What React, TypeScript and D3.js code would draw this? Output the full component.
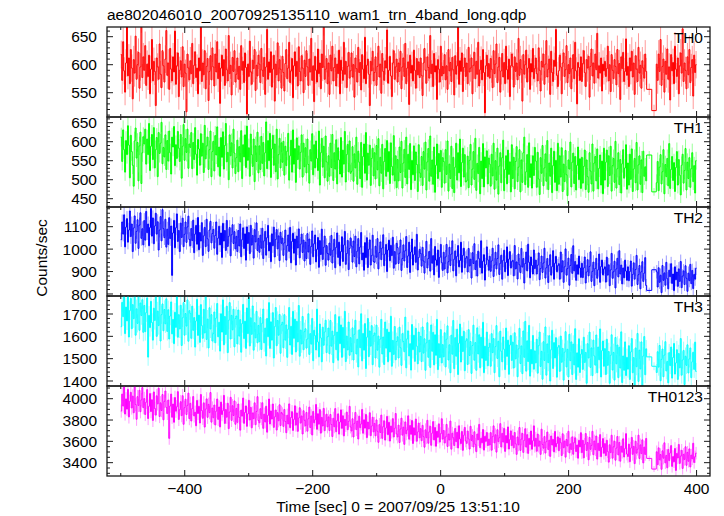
import React from "react";
import * as d3 from "d3";

const W = 724;
const H = 516;
const LEFT = 107;
const RIGHT = 710;
const PANEL_EDGES = [27, 117, 207, 296, 386, 476];
const T_DOMAIN: [number, number] = [-521.5, 421];

const TITLE = "ae802046010_20070925135110_wam1_trn_4band_long.qdp";
const X_LABEL = "Time [sec] 0 = 2007/09/25 13:51:10";
const Y_LABEL = "Counts/sec";
const X_TICK_LABELS = [-400, -200, 0, 200, 400];

// binning of the light curve: segment A, two wide bins across the gap, segment B
const SEG_A_START = -500;
const GAP_EDGES = [322, 330, 337];
const SEG_B_END = 400;
const NOMINAL_BIN = 1.5;
const EXPOSURE = 1.0;

const TH0_A = [
  618,572,641,589,551,603,668,580,612,566,627,594,539,609,585,651,574,600,622,558,596,683,577,614,
  590,634,563,601,579,617,548,592,645,571,606,588,527,612,596,574,637,583,559,625,598,569,610,661,
  581,603,556,629,592,571,614,587,660,565,598,621,543,590,607,578,632,561,601,585,516,619,594,573,
  607,584,638,566,599,623,577,594,548,612,589,674,570,603,582,625,557,597,611,536,588,616,573,630,
  596,562,619,587,641,575,603,531,594,617,580,609,563,628,591,571,652,584,599,546,613,588,625,569,
  583,612,574,597,556,634,590,606,568,621,595,512,601,579,642,587,565,608,593,627,554,599,580,617,
  601,568,629,590,579,613,547,596,663,574,605,586,623,560,592,617,535,601,582,639,571,609,592,558,
  615,586,553,602,627,575,594,640,568,589,611,541,598,623,579,606,562,632,588,571,616,594,550,608,
  579,625,596,563,610,587,647,572,598,534,615,590,569,628,584,603,557,619,595,678,574,592,611,566,
  603,547,617,589,633,571,595,612,562,601,584,626,548,608,590,572,640,583,606,559,597,622,576,589,
  621,578,600,542,612,593,569,631,586,604,555,618,592,575,649,566,599,610,583,527,606,589,624,571,
  586,614,563,597,633,578,601,549,620,588,572,607,594,662,567,590,615,580,543,603,625,574,596,610,
  569,603,588,624,557,596,612,579,638,566,594,605,529,617,585,599,571,626,590,558,611,582,605,577,
  612,581,545,603,629,590,567,614,595,576,652,584,601,561,620,587,598,538,609,592,569,633,580,597,
  584,618,573,598,556,627,589,604,570,613,591,546,616,583,598,672,565,607,588,621,552,595,612,579,
  603,566,631,587,594,612,548,599,622,575,606,583,640,562,591,608,573,627,586,514,598,617,579,602,
  576,611,592,559,625,584,601,637,568,596,613,551,589,620,578,604,566,633,591,574,610,543,598,619,
  597,560,614,588,603,573,647,581,609,592,535,618,583,600,626,569,594,611,556,602,587,629,575,593,
  612,584,571,630,590,553,606,596,619,565,601,643,578,592,610,547,624,586,570,608,597,663,581,561,
  589,617,596,548,603,621,579,591,634,568,600,584,612,557,593,618,575,640,589,530,604,595,572,614,
  570,602,625,586,561,609,594,615,542,597,628,580,603,567,619,591,656,576,598,585,612,553,601,589,
  606,579,593,633,571,600,552,618,590,575,609,597,564,627,584,602,538,614,593,622,570,588,646,581,
  597,561,612,589,624,578,603,547,616,592,570,631,585,599,558,607,594,576,619,588,
];
const TH0_GAP = [556, 518];
const TH0_B = [
  601,572,619,588,645,563,597,610,551,606,583,628,574,596,537,618,589,604,566,633,592,
  579,612,548,598,621,585,664,570,603,590,557,614,582,627,568,595,609,544,617,586,600,
];

const TH1_A = [
  612,548,631,579,520,603,566,642,591,505,617,574,538,483,602,636,557,598,497,589,625,490,571,613,
  594,633,541,607,566,648,524,588,619,553,637,531,579,611,508,624,569,596,651,542,585,560,618,527,
  603,549,628,571,515,612,586,640,537,592,556,627,583,548,619,504,588,645,551,608,572,633,530,594,
  585,624,529,598,553,637,567,512,606,581,538,621,562,596,519,643,555,589,612,527,579,628,508,574,
  601,523,616,565,639,534,586,509,611,559,626,528,590,648,547,572,500,618,563,597,531,633,570,516,
  558,604,521,587,547,629,503,592,560,618,532,641,551,584,509,620,566,535,607,495,589,548,625,518,
  589,527,614,543,598,510,571,652,529,603,550,622,506,581,617,538,594,521,633,502,566,609,531,597,
  546,601,512,588,537,575,622,499,563,604,520,631,541,582,493,610,553,589,528,572,618,507,596,534,
  584,518,607,540,491,579,549,621,513,592,531,602,556,524,628,486,571,609,533,588,505,615,547,496,
  563,509,596,532,619,498,571,528,605,489,584,552,515,611,507,578,541,627,494,566,593,521,602,517,
  522,587,496,568,531,612,488,575,546,503,598,480,561,594,517,624,499,570,538,591,485,556,583,510,
  571,502,590,526,608,484,559,517,593,476,548,582,509,603,521,574,490,597,535,512,616,497,563,479,
  553,497,586,519,601,478,544,580,506,612,489,567,527,595,474,551,513,589,498,573,540,469,592,518,
  506,561,485,574,528,599,473,547,582,496,615,509,552,488,586,467,538,594,503,569,521,577,480,558,
  548,491,579,514,602,470,541,503,588,477,559,466,533,596,499,571,518,607,482,545,583,507,566,494,
  497,562,479,551,593,486,528,574,501,609,472,543,516,585,463,549,503,595,481,560,531,576,489,557,
  541,483,567,510,596,475,550,499,583,462,536,571,492,558,604,471,527,563,489,578,514,547,468,592,
  503,559,476,548,587,495,533,579,468,552,493,571,612,487,521,566,480,597,506,542,478,563,511,585,
  549,480,572,502,461,558,517,590,484,531,568,496,603,474,544,509,583,466,537,575,493,551,471,596,
  488,563,507,584,469,541,495,577,513,458,552,528,599,481,546,570,490,561,473,538,586,500,555,477,
  559,491,535,578,474,552,508,467,571,523,489,594,470,544,561,497,581,476,530,565,486,549,463,583,
  499,546,578,482,563,511,588,470,537,556,493,601,478,529,571,487,553,465,542,579,504,531,592,475,
  544,486,567,501,581,469,528,556,492,598,473,539,563,488,552,466,575,509,534,497,
];
const TH1_GAP = [565, 468];
const TH1_B = [
  492,548,471,533,566,489,521,579,463,540,508,556,484,595,477,527,561,498,545,469,532,
  574,486,553,512,460,538,567,491,524,582,473,546,503,558,480,529,571,495,537,465,550,
];

const TH2_A = [
  1042,1121,1067,1153,1010,1098,1136,1031,1085,1170,1056,1112,989,1094,1148,1026,1079,1131,1003,1107,1162,1048,1091,1019,
  1127,1040,1168,1073,1112,1015,1096,1181,1058,1139,1024,1103,1160,1067,1122,996,1085,1145,1037,1176,1091,1051,1133,1009,
  1089,1021,1140,1047,1103,883,1072,1128,1006,1095,1157,1034,1083,989,1116,1052,1138,1011,1066,1121,1030,1099,1147,1043,
  1015,1092,1038,1129,984,1067,1106,1022,1141,997,1074,1036,1118,972,1059,1097,1011,1133,1046,990,1085,1124,1028,1070,
  1088,1004,1061,1121,977,1049,1102,1019,1072,963,1115,1036,1083,994,1128,1012,1057,1096,970,1064,1109,1025,1078,1001,
  1057,989,1083,1014,1112,966,1042,1095,1003,1068,951,1099,1025,1074,980,1106,1018,1061,960,1087,1032,1117,994,1048,
  986,1062,1004,1093,958,1037,1079,973,1051,1106,992,1030,944,1068,1015,1098,965,1043,1087,1001,1059,949,1075,1026,
  1049,972,1028,1085,951,1016,1063,990,1097,939,1034,1071,982,1045,929,1058,1005,1090,961,1022,1067,985,1040,947,
  1031,958,1069,987,1045,932,1012,1081,966,1024,1063,943,999,1052,919,1038,976,1089,954,1008,1058,928,1016,981,
  951,1027,973,1061,938,996,1044,917,1008,1072,963,1031,926,989,1055,945,1018,1079,932,980,1039,909,1003,1050,
  1014,942,1036,967,1058,921,991,1047,934,1009,1074,952,983,906,1029,962,1051,918,999,1041,929,971,1062,945,
  941,1013,964,1047,912,985,1032,953,1005,1064,926,978,1021,900,996,1040,948,1017,971,1053,915,989,933,1026,
  1007,936,982,1041,905,958,1019,947,993,1056,918,970,1031,896,987,1045,929,975,1010,941,1066,907,962,999,
  981,924,1008,947,893,969,1035,916,958,990,902,1047,937,971,885,1012,951,928,996,874,963,1021,940,905,
  986,911,965,1021,894,944,1008,927,978,1037,903,955,992,881,968,1016,921,949,1031,897,972,1004,917,959,
  967,898,1003,925,955,871,984,936,1024,909,948,880,991,957,918,1037,893,946,975,862,931,1010,952,906,
  968,901,947,1004,878,929,986,912,958,1019,887,937,973,866,950,995,899,941,1010,882,955,989,916,944,
  950,881,1016,912,943,867,978,930,895,1003,920,958,849,936,987,903,1022,941,872,965,927,889,996,913,
  951,889,928,983,864,913,969,896,938,1004,871,917,958,851,929,975,884,922,993,866,937,968,899,926,
  935,866,987,898,948,852,921,1001,884,913,960,839,927,976,892,1015,903,945,861,930,888,969,916,874,
  937,873,916,965,849,898,953,881,923,988,856,901,942,837,914,959,870,908,978,852,922,951,885,911,
  921,853,964,884,930,837,907,981,870,899,946,827,912,959,876,993,889,929,845,916,872,951,902,861,
  921,859,900,947,835,887,939,866,909,972,842,886,927,823,899,944,856,893,962,838,
];
const TH2_GAP = [816, 908];
const TH2_B = [
  899,831,917,852,884,806,927,861,894,839,941,868,823,906,877,935,847,889,815,921,863,
  898,834,912,856,945,828,880,903,842,926,870,812,893,859,932,846,905,824,887,866,915,
];

const TH3_A = [
  1643,1752,1688,1796,1612,1731,1669,1805,1597,1715,1770,1634,1742,1679,1788,1605,1723,1658,1779,1627,1749,1693,1764,1618,
  1738,1621,1706,1772,1507,1694,1639,1757,1662,1583,1726,1671,1791,1600,1713,1648,1783,1579,1697,1745,1625,1720,1656,1768,
  1622,1719,1588,1691,1754,1611,1676,1567,1708,1640,1782,1596,1697,1633,1739,1559,1683,1751,1605,1702,1646,1763,1578,1715,
  1703,1591,1735,1627,1684,1552,1669,1766,1604,1695,1573,1742,1648,1591,1721,1615,1780,1586,1677,1548,1728,1633,1697,1579,
  1612,1709,1571,1682,1747,1598,1663,1534,1701,1619,1763,1562,1689,1608,1735,1527,1672,1751,1588,1694,1629,1721,1553,1680,
  1691,1566,1718,1601,1675,1529,1657,1743,1590,1668,1546,1727,1612,1785,1557,1683,1609,1736,1538,1661,1593,1712,1571,1649,
  1576,1684,1541,1659,1722,1571,1637,1512,1680,1598,1751,1546,1665,1583,1706,1503,1643,1729,1558,1671,1605,1698,1524,1652,
  1663,1549,1697,1583,1651,1506,1632,1729,1561,1645,1519,1712,1591,1677,1530,1667,1575,1738,1511,1628,1566,1689,1540,1621,
  1634,1547,1588,1701,1519,1612,1565,1680,1491,1627,1603,1539,1722,1575,1508,1655,1593,1486,1641,1560,1619,1672,1527,1598,
  1637,1522,1671,1556,1623,1482,1605,1697,1540,1619,1493,1688,1567,1651,1506,1640,1548,1712,1487,1601,1539,1664,1515,1594,
  1531,1638,1494,1609,1672,1521,1587,1463,1629,1549,1701,1490,1613,1538,1657,1456,1596,1680,1509,1624,1556,1648,1473,1603,
  1615,1503,1650,1538,1601,1462,1588,1676,1521,1597,1474,1664,1547,1632,1486,1619,1530,1690,1466,1582,1519,1644,1495,1577,
  1598,1503,1641,1549,1470,1612,1577,1531,1686,1459,1589,1624,1512,1567,1449,1653,1540,1605,1488,1636,1556,1477,1619,1530,
  1600,1487,1642,1525,1589,1448,1571,1661,1506,1583,1461,1651,1533,1618,1472,1607,1515,1676,1451,1567,1505,1630,1481,1563,
  1508,1616,1463,1587,1647,1494,1562,1437,1605,1520,1671,1455,1594,1511,1632,1429,1569,1655,1485,1600,1532,1623,1446,1579,
  1589,1474,1630,1514,1577,1434,1559,1650,1493,1572,1448,1638,1521,1607,1459,1596,1502,1663,1437,1556,1492,1619,1468,1550,
  1569,1466,1612,1527,1590,1437,1554,1648,1501,1578,1419,1623,1533,1486,1597,1542,1451,1637,1510,1583,1430,1561,1604,1492,
  1574,1458,1616,1499,1561,1419,1544,1636,1478,1557,1433,1624,1506,1667,1444,1580,1487,1649,1422,1541,1477,1604,1453,1535,
  1481,1587,1435,1558,1619,1465,1533,1408,1576,1492,1642,1426,1566,1482,1603,1400,1540,1627,1456,1572,1503,1594,1417,1551,
  1559,1443,1601,1484,1546,1404,1529,1621,1463,1542,1418,1609,1491,1575,1429,1565,1472,1634,1407,1526,1462,1589,1438,1520,
  1541,1452,1596,1483,1528,1390,1567,1503,1619,1461,1548,1424,1583,1512,1471,1606,1437,1552,1495,1633,1418,1536,1579,1466,
  1545,1429,1587,1470,1532,1390,1515,1607,1449,1528,1404,1595,1477,1561,1415,1551,1458,1620,1393,1512,1448,1575,1424,1506,
  1453,1558,1407,1530,1590,1437,1505,1381,1548,1464,1613,1398,1538,1454,1575,1373,1512,1599,1428,1544,
];
const TH3_GAP = [1508, 1466];
const TH3_B = [
  1438,1531,1462,1559,1401,1497,1543,1419,1516,1576,1445,1488,1392,1527,1469,1552,1413,1505,1568,1431,1481,
  1540,1407,1523,1459,1590,1426,1494,1537,1384,1511,1470,1562,1436,1499,1548,1415,1486,1529,1452,1574,1443,
];

const TH0123_A = [
  3884,4043,3931,4112,3856,3998,3902,4087,3829,3975,4060,3913,4024,3868,4131,3945,3807,4019,3937,4079,3878,3989,4104,3916,
  4001,3852,3967,4085,3814,3929,4048,3879,3990,3796,4063,3908,3846,4027,3951,4098,3833,3961,3889,4039,3802,3975,4072,3918,
  3862,3987,3628,3931,4043,3826,3950,3779,4011,3883,3924,4066,3805,3897,3972,3841,4028,3760,3916,3995,3851,3938,4052,3813,
  3956,3791,3907,4020,3838,3873,3746,3984,3861,3929,3772,4039,3889,3816,3961,3734,3902,3998,3825,3947,3869,4058,3780,3912,
  3821,3940,3754,3883,3997,3806,3922,3735,3968,3851,3887,4031,3768,3899,3826,3957,3719,3875,4013,3796,3934,3842,3979,3760,
  3909,3778,3950,3824,3705,3893,3837,4006,3769,3871,3932,3741,3858,3985,3800,3919,3727,3866,3813,3961,3756,3880,4019,3795,
  3774,3906,3813,3962,3722,3855,3781,3929,3686,3844,3997,3763,3885,3809,3950,3731,3829,3894,3706,3869,3793,3943,3748,3871,
  3857,3740,3899,3786,3681,3845,3763,3951,3728,3824,3878,3702,3806,3933,3752,3866,3694,3819,3915,3771,3838,3669,3887,3797,
  3746,3871,3695,3812,3921,3729,3838,3660,3881,3774,3803,3946,3713,3859,3761,3898,3677,3825,3744,3909,3700,3790,3855,3736,
  3829,3701,3852,3758,3645,3816,3737,3907,3690,3793,3858,3668,3781,3895,3722,3840,3651,3806,3749,3874,3709,3787,3928,3735,
  3697,3812,3641,3769,3871,3710,3790,3622,3836,3728,3763,3899,3676,3802,3724,3853,3635,3781,3716,3868,3653,3743,3826,3689,
  3768,3652,3801,3694,3591,3757,3683,3846,3628,3738,3792,3612,3726,3834,3662,3779,3603,3743,3687,3813,3641,3722,3861,3670,
  3641,3752,3589,3716,3817,3658,3733,3572,3782,3671,3706,3839,3620,3749,3666,3796,3580,3727,3659,3809,3601,3688,3771,3633,
  3719,3606,3750,3644,3545,3708,3634,3797,3582,3689,3741,3563,3677,3785,3613,3730,3554,3695,3638,3764,3593,3672,3812,3621,
  3702,3585,3641,3759,3552,3668,3613,3790,3527,3676,3634,3561,3721,3597,3685,3538,3746,3622,3579,3693,3516,3657,3731,3604,
  3581,3697,3623,3528,3741,3609,3654,3547,3690,3572,3503,3668,3615,3759,3540,3629,3586,3711,3518,3647,3600,3683,3561,3620,
  3566,3682,3517,3644,3745,3586,3661,3499,3709,3597,3634,3766,3547,3675,3593,3722,3506,3654,3585,3735,3528,3616,3698,3560,
  3652,3539,3683,3577,3478,3641,3567,3730,3515,3622,3674,3496,3610,3718,3546,3663,3487,3628,3571,3697,3526,3605,3745,3554,
  3629,3507,3668,3555,3602,3478,3714,3571,3536,3645,3490,3597,3687,3523,3611,3459,3650,3566,3618,3501,3693,3549,3580,3642,
  3512,3629,3588,3467,3671,3540,3603,3452,3618,3557,3694,3493,3576,3525,3642,3479,3589,3633,3504,3566,3442,3610,3548,3681,
  3494,3610,3445,3572,3673,3514,3589,3427,3637,3525,3562,3694,3475,3603,3521,3650,3434,3582,3513,3663,3456,3544,3626,3488,
  3579,3466,3610,3504,3405,3568,3494,3657,3442,3549,3601,3423,3537,3645,3473,3590,3414,3555,3498,3624,3453,3532,3672,3481,
  3458,3574,3409,3536,3637,3478,3553,3391,3601,3489,3526,3658,3439,3567,3485,3614,3398,3546,3477,3627,
];
const TH0123_GAP = [3440, 3340];
const TH0123_B = [
  3502,3381,3539,3427,3476,3338,3511,3442,3586,3398,3468,3352,3524,3419,3491,3560,3365,3457,3408,3533,3327,
  3486,3444,3571,3393,3462,3516,3346,3478,3431,3549,3375,3497,3413,3529,3360,3471,3436,3582,3402,3455,3489,
];

const PANEL_NAMES = ["TH0", "TH1", "TH2", "TH3", "TH0123"];
const COLORS = ["#ff0000", "#00ff00", "#0000ff", "#00ffff", "#ff00ff"];
const Y_DOMAINS: [number, number][] = [
  [506.6, 667.3],
  [428.2, 665],
  [791, 1187.8],
  [1377.6, 1780.6],
  [3275, 4119],
];
const Y_MAJOR = [50, 50, 100, 100, 200];
const Y_MINOR = [10, 10, 20, 20, 50];
const Y_LABELS = [
  [550, 600, 650],
  [450, 500, 550, 600, 650],
  [800, 900, 1000, 1100],
  [1400, 1500, 1600, 1700],
  [3400, 3600, 3800, 4000],
];
const SERIES_A = [TH0_A, TH1_A, TH2_A, TH3_A, TH0123_A];
const SERIES_GAP = [TH0_GAP, TH1_GAP, TH2_GAP, TH3_GAP, TH0123_GAP];
const SERIES_B = [TH0_B, TH1_B, TH2_B, TH3_B, TH0123_B];

type Bin = { t0: number; t1: number; v: number };

function buildBins(a: number[], gap: number[], b: number[]): Bin[] {
  const bins: Bin[] = [];
  const wa = (GAP_EDGES[0] - SEG_A_START) / a.length;
  a.forEach((v, i) => bins.push({ t0: SEG_A_START + i * wa, t1: SEG_A_START + (i + 1) * wa, v }));
  gap.forEach((v, i) => bins.push({ t0: GAP_EDGES[i], t1: GAP_EDGES[i + 1], v }));
  const bStart = GAP_EDGES[GAP_EDGES.length - 1];
  const wb = (SEG_B_END - bStart) / b.length;
  b.forEach((v, i) => bins.push({ t0: bStart + i * wb, t1: bStart + (i + 1) * wb, v }));
  return bins;
}

const FONT = "'Liberation Sans', Arial, Helvetica, sans-serif";
const FRAME = "#1a1a1a";

export default function App() {
  const x = d3.scaleLinear().domain(T_DOMAIN).range([LEFT, RIGHT]);
  const xMajor = d3.range(-400, 401, 200);
  const xMinor = d3.range(-500, 401, 100).filter((t) => t % 200 !== 0);

  return (
    <svg width={W} height={H} style={{ position: "absolute", left: 0, top: 0, background: "#fff" }} fontFamily={FONT}>
      <defs>
        {PANEL_NAMES.map((n, i) => (
          <clipPath id={`clip${i}`} key={n}>
            <rect x={LEFT} y={PANEL_EDGES[i]} width={RIGHT - LEFT} height={PANEL_EDGES[i + 1] - PANEL_EDGES[i]} />
          </clipPath>
        ))}
      </defs>
      <text x={LEFT} y={20} fontSize={15.5} fill="#000">{TITLE}</text>
      {PANEL_NAMES.map((name, i) => {
        const top = PANEL_EDGES[i];
        const bot = PANEL_EDGES[i + 1];
        const y = d3.scaleLinear().domain(Y_DOMAINS[i]).range([bot, top]);
        const bins = buildBins(SERIES_A[i], SERIES_GAP[i], SERIES_B[i]);
        const pts: [number, number][] = bins.map((d) => [d.t0, d.v]);
        pts.push([bins[bins.length - 1].t1, bins[bins.length - 1].v]);
        const line = d3
          .line<[number, number]>()
          .x((d) => x(d[0]))
          .y((d) => y(d[1]))
          .curve(d3.curveStepAfter);
        const errPath = bins
          .map((d) => {
            const err = Math.sqrt(d.v / (EXPOSURE * ((d.t1 - d.t0) / NOMINAL_BIN)));
            const xc = x((d.t0 + d.t1) / 2);
            return `M${xc.toFixed(2)},${y(d.v - err).toFixed(2)}V${y(d.v + err).toFixed(2)}`;
          })
          .join("");
        const [d0, d1] = Y_DOMAINS[i];
        const yMaj = d3.range(Math.ceil(d0 / Y_MAJOR[i]) * Y_MAJOR[i], d1, Y_MAJOR[i]);
        const yMin = d3
          .range(Math.ceil(d0 / Y_MINOR[i]) * Y_MINOR[i], d1, Y_MINOR[i])
          .filter((v) => v % Y_MAJOR[i] !== 0);
        return (
          <g key={name}>
            <g clipPath={`url(#clip${i})`}>
              <path d={errPath} stroke={COLORS[i]} strokeOpacity={0.4} strokeWidth={1} fill="none" />
              <path d={line(pts) || ""} stroke={COLORS[i]} strokeWidth={1} fill="none" />
            </g>
            <g stroke={FRAME} strokeWidth={1}>
              {yMaj.map((v) => (
                <g key={`M${v}`}>
                  <line x1={LEFT} x2={LEFT + 6} y1={y(v)} y2={y(v)} />
                  <line x1={RIGHT} x2={RIGHT - 6} y1={y(v)} y2={y(v)} />
                </g>
              ))}
              {yMin.map((v) => (
                <g key={`m${v}`}>
                  <line x1={LEFT} x2={LEFT + 3} y1={y(v)} y2={y(v)} />
                  <line x1={RIGHT} x2={RIGHT - 3} y1={y(v)} y2={y(v)} />
                </g>
              ))}
              {xMajor.map((t) => (
                <g key={`xM${t}`}>
                  <line x1={x(t)} x2={x(t)} y1={bot} y2={bot - 6} />
                  <line x1={x(t)} x2={x(t)} y1={top} y2={top + 6} />
                </g>
              ))}
              {xMinor.map((t) => (
                <g key={`xm${t}`}>
                  <line x1={x(t)} x2={x(t)} y1={bot} y2={bot - 3} />
                  <line x1={x(t)} x2={x(t)} y1={top} y2={top + 3} />
                </g>
              ))}
            </g>
            <rect x={LEFT} y={top} width={RIGHT - LEFT} height={bot - top} fill="none" stroke={FRAME} strokeWidth={1.3} />
            {Y_LABELS[i].map((v) => (
              <text key={`l${v}`} x={97} y={y(v)} dy="0.36em" textAnchor="end" fontSize={15.5} fill="#000">
                {v}
              </text>
            ))}
            <text x={703} y={top + 16} textAnchor="end" fontSize={15.5} fill="#000">
              {name}
            </text>
          </g>
        );
      })}
      {X_TICK_LABELS.map((t) => (
        <text key={`xl${t}`} x={x(t)} y={494} textAnchor="middle" fontSize={15.5} fill="#000">
          {t < 0 ? `\u2212${-t}` : `${t}`}
        </text>
      ))}
      <text x={398} y={512} textAnchor="middle" fontSize={15.5} fill="#000">
        {X_LABEL}
      </text>
      <text transform="translate(47,258) rotate(-90)" textAnchor="middle" fontSize={15.5} fill="#000">
        {Y_LABEL}
      </text>
    </svg>
  );
}
